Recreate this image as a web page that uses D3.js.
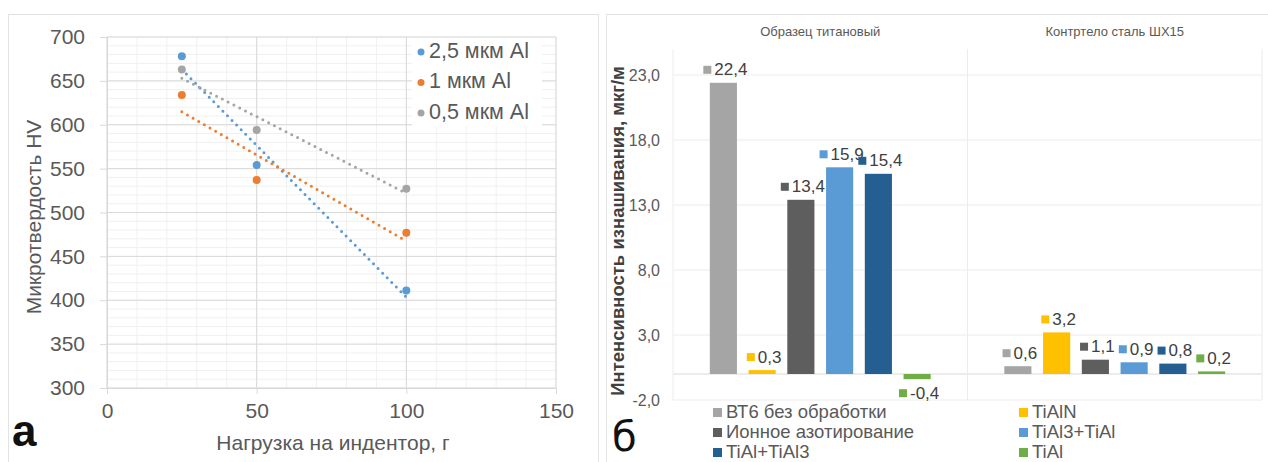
<!DOCTYPE html>
<html>
<head>
<meta charset="utf-8">
<script src="https://cdn.jsdelivr.net/npm/d3@7"></script>
<style>
  body { margin: 0; background: #fff; }
  svg { display: block; font-family: "Liberation Sans", Arial, sans-serif; }
</style>
</head>
<body>
<div id="chart"></div>
<script>
// --- panel a: microhardness vs load ---
const loads = [25, 50, 100];
const hv25 = [678, 554, 411];
const hv10 = [634, 537, 477];
const hv05 = [663, 594, 527];
const hvNames = ["2,5 мкм Al", "1 мкм Al", "0,5 мкм Al"];
const hvColors = ["#5B9BD5", "#ED7D31", "#A5A5A5"];
const loadTicks = [0, 50, 100, 150];
const hvTicks = [300, 350, 400, 450, 500, 550, 600, 650, 700];

// --- panel б: wear intensity ---
const groups = ["Образец титановый", "Контртело сталь ШХ15"];
const treatments = ["ВТ6 без обработки", "TiAlN", "Ионное азотирование", "TiAl3+TiAl", "TiAl+TiAl3", "TiAl"];
const wearTitanium = [22.4, 0.3, 13.4, 15.9, 15.4, -0.4];
const wearSteel = [0.6, 3.2, 1.1, 0.9, 0.8, 0.2];
const wearColors = ["#A5A5A5", "#FFC000", "#5E5E5E", "#5B9BD5", "#255E91", "#70AD47"];
const wearTicks = [-2, 3, 8, 13, 18, 23];

const width = 1268;
const height = 462;
const textColor = "#595959";

const svg = d3.select("#chart")
    .append("svg")
    .attr("viewBox", [0, 0, width, height])
    .attr("width", width)
    .attr("height", height);

// panel frames
svg.append("rect").attr("x", 8.5).attr("y", 14.5).attr("width", 590).attr("height", 460)
    .attr("fill", "none").attr("stroke", "#e3e3e3");
svg.append("rect").attr("x", 606.5).attr("y", 14.5).attr("width", 670).attr("height", 460)
    .attr("fill", "none").attr("stroke", "#e3e3e3");

// ================= panel a =================
const x = d3.scaleLinear([0, 150], [107, 556]);
const y = d3.scaleLinear([300, 700], [388, 37]);

const a = svg.append("g");

// minor grid
a.append("g").selectAll("line")
    .data(d3.range(300, 701, 10))
    .join("line")
    .attr("x1", x(0)).attr("x2", x(150))
    .attr("y1", d => y(d)).attr("y2", d => y(d))
    .attr("stroke", "#f0f0f0");
a.append("g").selectAll("line")
    .data(d3.range(0, 151, 10))
    .join("line")
    .attr("x1", d => x(d)).attr("x2", d => x(d))
    .attr("y1", y(300)).attr("y2", y(700))
    .attr("stroke", "#f0f0f0");
// major grid
a.append("g").selectAll("line")
    .data(hvTicks)
    .join("line")
    .attr("x1", x(0)).attr("x2", x(150))
    .attr("y1", d => y(d)).attr("y2", d => y(d))
    .attr("stroke", "#d9d9d9");
a.append("g").selectAll("line")
    .data(loadTicks)
    .join("line")
    .attr("x1", d => x(d)).attr("x2", d => x(d))
    .attr("y1", y(300)).attr("y2", y(700))
    .attr("stroke", "#d9d9d9");

const yAxisA = a.append("g")
    .attr("transform", `translate(${x(0)},0)`)
    .call(d3.axisLeft(y).tickValues(hvTicks).tickSize(7).tickPadding(15));
const xAxisA = a.append("g")
    .attr("transform", `translate(0,${y(300)})`)
    .call(d3.axisBottom(x).tickValues(loadTicks).tickSize(6).tickPadding(9));
[yAxisA, xAxisA].forEach(g => {
    g.select(".domain").attr("stroke", "#d9d9d9");
    g.selectAll(".tick line").attr("stroke", "#d9d9d9");
    g.selectAll(".tick text")
        .attr("fill", textColor)
        .attr("font-size", 21)
        .attr("font-family", "Liberation Sans, Arial, sans-serif");
});

a.append("text")
    .attr("transform", `translate(35,217) rotate(-90)`)
    .attr("text-anchor", "middle")
    .attr("dominant-baseline", "middle")
    .attr("font-size", 21)
    .attr("fill", textColor)
    .text("Микротвердость HV");
a.append("text")
    .attr("x", 333).attr("y", 450)
    .attr("text-anchor", "middle")
    .attr("font-size", 21)
    .attr("fill", textColor)
    .text("Нагрузка на индентор, г");
a.append("text")
    .attr("x", 12).attr("y", 446)
    .attr("font-size", 44)
    .attr("font-weight", "bold")
    .attr("fill", "#111")
    .text("а");

// linear trend lines (least squares on the measured points)
function trend(xs, ys) {
    const mx = d3.mean(xs), my = d3.mean(ys);
    const sxy = d3.sum(xs, (v, i) => (v - mx) * (ys[i] - my));
    const sxx = d3.sum(xs, v => (v - mx) ** 2);
    const k = sxy / sxx;
    return v => my + k * (v - mx);
}

const hvSeries = [hv25, hv10, hv05];
const line = d3.line().x(d => x(d[0])).y(d => y(d[1]));
hvSeries.forEach((ys, i) => {
    const f = trend(loads, ys);
    const ends = d3.extent(loads);
    a.append("path")
        .attr("d", line(ends.map(v => [v, f(v)])))
        .attr("fill", "none")
        .attr("stroke", hvColors[i])
        .attr("stroke-width", 3)
        .attr("stroke-linecap", "round")
        .attr("stroke-dasharray", "0 6.5");
});
hvSeries.forEach((ys, i) => {
    a.append("g").selectAll("circle")
        .data(ys)
        .join("circle")
        .attr("cx", (d, j) => x(loads[j]))
        .attr("cy", d => y(d))
        .attr("r", 4)
        .attr("fill", hvColors[i]);
});

// legend
const legA = a.append("g");
legA.append("rect").attr("x", 412).attr("y", 38).attr("width", 130).attr("height", 88).attr("fill", "#fff");
hvNames.forEach((name, i) => {
    const ly = 52 + 30.5 * i;
    legA.append("circle").attr("cx", 421).attr("cy", ly).attr("r", 3.5).attr("fill", hvColors[i]);
    legA.append("text")
        .attr("x", 429).attr("y", ly)
        .attr("dominant-baseline", "middle")
        .attr("font-size", 21.5)
        .attr("fill", textColor)
        .text(name);
});

// ================= panel б =================
const narrow = "'Liberation Sans Narrow', 'Liberation Sans', Arial, sans-serif";
const ru = d3.formatLocale({ decimal: ",", thousands: " ", grouping: [3], currency: ["", ""], minus: "-" });
const fmt = ru.format(".1f");

const x0 = d3.scaleBand(groups, [673, 1262]);
const x1 = d3.scaleBand(treatments, [0, x0.bandwidth()]).paddingInner(0.3).paddingOuter(0.95);
const yR = d3.scaleLinear([-2, 25], [400, 49]);

const b = svg.append("g").attr("font-family", narrow);

b.append("g").selectAll("line")
    .data(wearTicks)
    .join("line")
    .attr("x1", 673).attr("x2", 1262)
    .attr("y1", d => yR(d)).attr("y2", d => yR(d))
    .attr("stroke", "#ececec");
b.append("line")
    .attr("x1", 673).attr("x2", 1262)
    .attr("y1", yR(0)).attr("y2", yR(0))
    .attr("stroke", "#d9d9d9");
b.append("g").selectAll("line")
    .data([...groups.map(g => x0(g)), x0.range()[1]])
    .join("line")
    .attr("x1", d => d).attr("x2", d => d)
    .attr("y1", yR(25)).attr("y2", yR(-2))
    .attr("stroke", "#ececec");

const yAxisB = b.append("g")
    .attr("transform", "translate(673,0)")
    .call(d3.axisLeft(yR).tickValues(wearTicks).tickFormat(fmt).tickSize(0).tickPadding(13));
yAxisB.select(".domain").remove();
yAxisB.selectAll(".tick text")
    .attr("fill", textColor)
    .attr("font-size", 16)
    .attr("font-family", narrow);

b.append("g").selectAll("text")
    .data(groups)
    .join("text")
    .attr("x", d => x0(d) + x0.bandwidth() / 2)
    .attr("y", 33)
    .attr("text-anchor", "middle")
    .attr("dominant-baseline", "middle")
    .attr("font-size", 13)
    .attr("fill", textColor)
    .text(d => d);

b.append("text")
    .attr("transform", "translate(619,231) rotate(-90)")
    .attr("text-anchor", "middle")
    .attr("dominant-baseline", "middle")
    .attr("font-size", 18.5)
    .attr("font-weight", "bold")
    .attr("font-family", "Liberation Sans, Arial, sans-serif")
    .attr("fill", "#404040")
    .text("Интенсивность изнашивания, мкг/м");

const bars = [];
[wearTitanium, wearSteel].forEach((vals, gi) => {
    vals.forEach((v, si) => bars.push({ group: groups[gi], name: treatments[si], value: v, color: wearColors[si] }));
});

b.append("g").selectAll("rect")
    .data(bars)
    .join("rect")
    .attr("x", d => x0(d.group) + x1(d.name))
    .attr("width", x1.bandwidth())
    .attr("y", d => yR(Math.max(0, d.value)))
    .attr("height", d => Math.abs(yR(d.value) - yR(0)))
    .attr("fill", d => d.color);

// data labels: small coloured square + value
const labels = b.append("g").selectAll("g")
    .data(bars)
    .join("g");
labels.each(function (d) {
    const g = d3.select(this);
    const cx = x0(d.group) + x1(d.name) + x1.bandwidth() / 2;
    const cy = d.value >= 0 ? yR(d.value) - 12 : yR(d.value) + 15;
    const t = g.append("text")
        .attr("y", cy)
        .attr("dominant-baseline", "middle")
        .attr("font-size", 17)
        .attr("fill", "#404040")
        .text(fmt(d.value));
    const w = t.node().getComputedTextLength();
    const total = 8 + 3 + w;
    const left = cx - total / 2 + 2;
    g.insert("rect", "text")
        .attr("x", left).attr("y", cy - 5)
        .attr("width", 8).attr("height", 8)
        .attr("fill", d.color);
    t.attr("x", left + 11);
});

// legend
const legCols = [713, 1019];
treatments.forEach((name, i) => {
    const col = i % 2, row = Math.floor(i / 2);
    const ly = 413 + 20 * row;
    b.append("rect")
        .attr("x", legCols[col]).attr("y", ly - 5)
        .attr("width", 9).attr("height", 9)
        .attr("fill", wearColors[i]);
    b.append("text")
        .attr("x", legCols[col] + 13).attr("y", ly)
        .attr("dominant-baseline", "middle")
        .attr("font-size", 18.5)
        .attr("fill", textColor)
        .text(name);
});

b.append("text")
    .attr("x", 612).attr("y", 451)
    .attr("font-size", 40)
    .attr("font-family", "DejaVu Sans, sans-serif")
    .attr("fill", "#111")
    .text("б");
</script>
</body>
</html>
